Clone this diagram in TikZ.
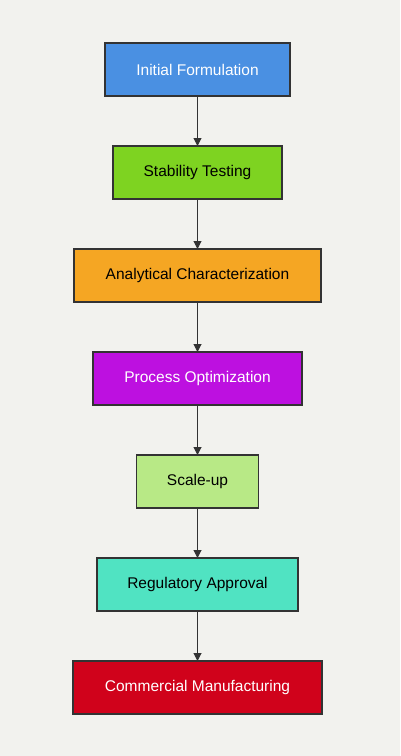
\documentclass[tikz,border=0pt]{standalone}
\usepackage{fontspec}
\setmainfont{Liberation Sans}
\usetikzlibrary{positioning, arrows.meta}
\definecolor{bgcol}{HTML}{F2F2EE}
\definecolor{edgecol}{HTML}{333333}
\definecolor{blueish}{HTML}{4A90E2}
\definecolor{greenish}{HTML}{7ED321}
\definecolor{orangeish}{HTML}{F5A623}
\definecolor{purpleish}{HTML}{BD10E0}
\definecolor{lightgreen}{HTML}{B8E986}
\definecolor{tealish}{HTML}{50E3C2}
\definecolor{redish}{HTML}{D0021B}

\begin{document}
\begin{tikzpicture}[
		x=1pt, y=1pt,
		node distance=50pt,
		stage/.style={draw=edgecol, line width=1.5pt, rectangle, outer sep=0pt, minimum height=53pt, font=\fontsize{15.5}{18}\selectfont},
		arrow/.style={-{Triangle[length=8pt, width=8pt]}, draw=edgecol, line width=1pt}
		]
		% background and page size
		\fill[bgcol] (0,0) rectangle (400,-756);
		\useasboundingbox (0,0) rectangle (400,-756);

		% stages
		\node[stage, fill=blueish, text=white, minimum width=185pt] (init) at (197.5,-69.5) {Initial Formulation};
		\node[stage, fill=greenish, minimum width=169pt, below=of init] (stab) {Stability Testing};
		\node[stage, fill=orangeish, minimum width=247pt, below=of stab] (anal) {Analytical Characterization};
		\node[stage, fill=purpleish, text=white, minimum width=209pt, below=of anal] (proc) {Process Optimization};
		\node[stage, fill=lightgreen, minimum width=122pt, below=of proc] (scale) {Scale-up};
		\node[stage, fill=tealish, minimum width=201pt, below=of scale] (reg) {Regulatory Approval};
		\node[stage, fill=redish, text=white, minimum width=249pt, below=of reg] (comm) {Commercial Manufacturing};

		% connectors
		\draw[arrow] (init) -- (stab);
		\draw[arrow] (stab) -- (anal);
		\draw[arrow] (anal) -- (proc);
		\draw[arrow] (proc) -- (scale);
		\draw[arrow] (scale) -- (reg);
		\draw[arrow] (reg) -- (comm);

	\end{tikzpicture}
\end{document}
